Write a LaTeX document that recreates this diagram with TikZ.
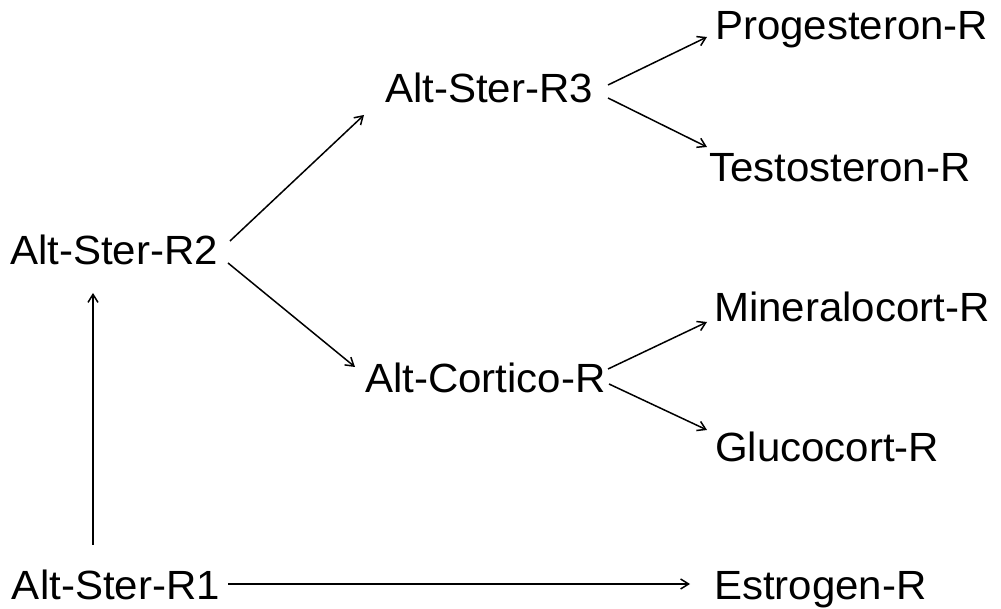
\documentclass[tikz,border=0pt]{standalone}
\usepackage{fontspec}
\setmainfont{Liberation Sans}[FakeStretch=1.03]
\usetikzlibrary{arrows.meta}
\begin{document}
\begin{tikzpicture}[x=1pt,y=1pt,
  lbl/.style={anchor=base west,inner sep=0pt,outer sep=0pt,font=\fontsize{40.8}{48}\selectfont},
  conn/.style={line width=1.5pt,-{Straight Barb[length=8pt,width=10pt,line width=1.5pt]}}]
\useasboundingbox (0,0) rectangle (1001,609);
\node[lbl] (r2) at (10,344) {Alt-Ster-R2};
\node[lbl] (r3) at (385,506) {Alt-Ster-R3};
\node[lbl] (prog) at (715,569) {Progesteron-R};
\node[lbl] (test) at (709,427) {Testosteron-R};
\node[lbl] (mine) at (714,287) {Mineralocort-R};
\node[lbl] (cort) at (365,216) {Alt-Cortico-R};
\node[lbl] (gluc) at (715,147) {Glucocort-R};
\node[lbl] (r1) at (12,9) {Alt-Ster-R1};
\node[lbl] (estr) at (714,9) {Estrogen-R};
\draw[conn] ([shift={(220,24)}]r2.base west) -- ([shift={(-21,-12)}]r3.base west);
\draw[conn] ([shift={(218,2)}]r2.base west) -- ([shift={(-10,26)}]cort.base west);
\draw[conn] ([shift={(223,18)}]r3.base west) -- ([shift={(-8,3)}]prog.base west);
\draw[conn] ([shift={(223,5)}]r3.base west) -- ([shift={(-2,35)}]test.base west);
\draw[conn] ([shift={(243,24)}]cort.base west) -- ([shift={(-7,0)}]mine.base west);
\draw[conn] ([shift={(244,9)}]cort.base west) -- ([shift={(-8,32)}]gluc.base west);
\draw[conn] ([shift={(81,55)}]r1.base west) -- ([shift={(83,-28)}]r2.base west);
\draw[conn] ([shift={(216,16)}]r1.base west) -- ([shift={(-24,16)}]estr.base west);
\end{tikzpicture}
\end{document}
